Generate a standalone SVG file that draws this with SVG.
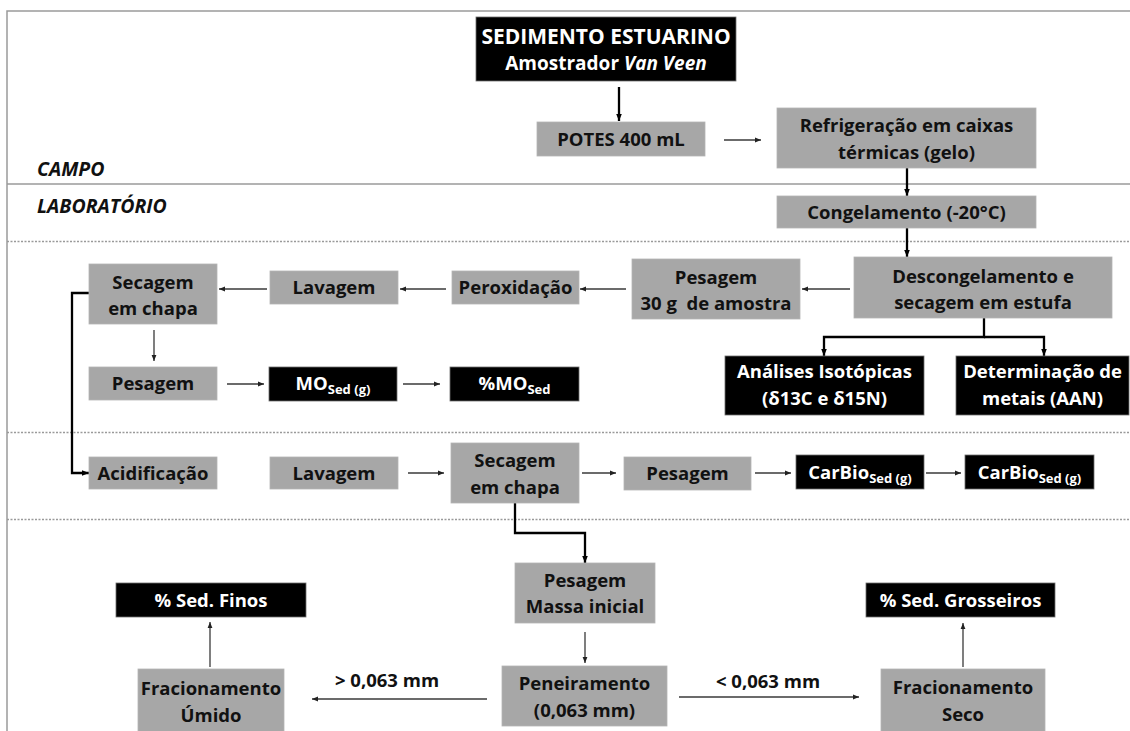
<svg xmlns="http://www.w3.org/2000/svg" width="1130" height="731" viewBox="0 0 1130 731">
  <style>
    text { font-family: "Open Sans", "Noto Sans", "Liberation Sans", sans-serif; font-weight: bold; text-anchor: middle; }
    .g rect { fill: #a7a7a7; stroke: #b4b4b4; stroke-width: 0.8; }
    .g text { fill: #111; font-size: 18.5px; }
    .k rect { fill: #000; stroke: #6e6e6e; stroke-width: 0.8; }
    .k text { fill: #fff; font-size: 18.5px; }
    .sub { font-size: 13px; }
    .zone { font-size: 19.5px; font-style: italic; text-anchor: start; fill: #111; }
    .frame { stroke: #9a9a9a; stroke-width: 1.5; fill: none; }
    .dash { stroke: #9a9a9a; stroke-width: 1.3; stroke-dasharray: 2 1.5; fill: none; }
    .thin { stroke: #3a3a3a; stroke-width: 1.3; fill: none; marker-end: url(#ah); }
    .thick { stroke: #000; stroke-width: 2.3; fill: none; }
    .thick.arr { marker-end: url(#ahb); }
    .lbl { font-size: 18.5px; fill: #111; }
  </style>
  <defs>
    <marker id="ah" viewBox="0 0 10 10" refX="10" refY="5" markerWidth="6" markerHeight="6" markerUnits="userSpaceOnUse" orient="auto">
      <path d="M0,1 L10,5 L0,9 z" fill="#222"/>
    </marker>
    <marker id="ahb" viewBox="0 0 10 10" refX="10" refY="5" markerWidth="7" markerHeight="7" markerUnits="userSpaceOnUse" orient="auto">
      <path d="M0,1 L10,5 L0,9 z" fill="#000"/>
    </marker>
  </defs>

  <rect width="1130" height="731" fill="#fff"/>

  <!-- frame and zone separators -->
  <path class="frame" d="M7,731 V11 H1130"/>
  <path class="frame" d="M7,184 H1130" stroke="#8a8a8a"/>
  <path class="dash" d="M7,241.5 H1130"/>
  <path class="dash" d="M7,432.5 H1130"/>
  <path class="dash" d="M7,519.5 H1130"/>
  <text class="zone" x="37" y="176">CAMPO</text>
  <text class="zone" x="37" y="213">LABORATÓRIO</text>

  <!-- connectors -->
  <g id="connectors">
    <path class="thick arr" d="M619,87 V121"/>
    <path class="thin" d="M724,140 H761"/>
    <path class="thick arr" d="M907,168 V196"/>
    <path class="thick arr" d="M907,228 V257"/>
    <path class="thin" d="M850,289 H802"/>
    <path class="thin" d="M626,289 H580"/>
    <path class="thin" d="M446,289 H400"/>
    <path class="thin" d="M267,289 H219"/>
    <path class="thin" d="M154,330 V361"/>
    <path class="thin" d="M227,384 H264"/>
    <path class="thin" d="M403,384 H440"/>
    <path class="thick arr" d="M984,318 V337 H824 V356"/>
    <path class="thick arr" d="M984,337 H1044 V356"/>
    <path class="thick arr" d="M89,293 H72 V473 H89"/>
    <path class="thin" d="M408,473 H444"/>
    <path class="thin" d="M582,473 H616"/>
    <path class="thin" d="M755,473 H791"/>
    <path class="thin" d="M926,473 H961"/>
    <path class="thick arr" d="M515,503 V533 H585 V563"/>
    <path class="thin" d="M585,632 V663"/>
    <path class="thin" d="M487,699 H312"/>
    <path class="thin" d="M679,697 H859"/>
    <path class="thin" d="M210,667 V622"/>
    <path class="thin" d="M963,667 V623"/>
  </g>

  <!-- field -->
  <g id="sedimento" class="k">
    <rect x="476" y="17" width="260" height="64"/>
    <text x="606" y="44" style="font-size:21px">SEDIMENTO ESTUARINO</text>
    <text x="606" y="70" style="font-size:19px">Amostrador <tspan font-style="italic">Van Veen</tspan></text>
  </g>
  <g id="potes" class="g">
    <rect x="537" y="122" width="168" height="34"/>
    <text x="621" y="145.5">POTES 400 mL</text>
  </g>
  <g id="refrigeracao" class="g">
    <rect x="777" y="108" width="259" height="60"/>
    <text x="906.5" y="132">Refrigeração em caixas</text>
    <text x="906.5" y="159">térmicas (gelo)</text>
  </g>

  <!-- laboratory -->
  <g id="congelamento" class="g">
    <rect x="777" y="196" width="259" height="32"/>
    <text x="906.5" y="219">Congelamento (-20°C)</text>
  </g>
  <g id="descongelamento" class="g">
    <rect x="854" y="257" width="258" height="61"/>
    <text x="983" y="283">Descongelamento e</text>
    <text x="983" y="309">secagem em estufa</text>
  </g>
  <g id="pesagem-30g" class="g">
    <rect x="632" y="259" width="168" height="60"/>
    <text x="716" y="284">Pesagem</text>
    <text x="716" y="310" xml:space="preserve">30 g  de amostra</text>
  </g>
  <g id="peroxidacao" class="g">
    <rect x="452" y="271" width="127" height="33"/>
    <text x="515.5" y="294">Peroxidação</text>
  </g>
  <g id="lavagem-1" class="g">
    <rect x="270" y="271" width="128" height="33"/>
    <text x="334" y="294">Lavagem</text>
  </g>
  <g id="secagem-1" class="g">
    <rect x="89" y="264" width="128" height="60"/>
    <text x="153" y="289">Secagem</text>
    <text x="153" y="315">em chapa</text>
  </g>
  <g id="pesagem-1" class="g">
    <rect x="89" y="367" width="128" height="33"/>
    <text x="153" y="390">Pesagem</text>
  </g>
  <g id="mo-sed" class="k">
    <rect x="269" y="367" width="128" height="34"/>
    <text x="333" y="390">MO<tspan class="sub" dy="4">Sed (g)</tspan></text>
  </g>
  <g id="pct-mo-sed" class="k">
    <rect x="450" y="367" width="129" height="34"/>
    <text x="514.5" y="390">%MO<tspan class="sub" dy="4">Sed</tspan></text>
  </g>
  <g id="analises-isotopicas" class="k">
    <rect x="725" y="356" width="199" height="59"/>
    <text x="824.5" y="378">Análises Isotópicas</text>
    <text x="824.5" y="405">(δ13C e δ15N)</text>
  </g>
  <g id="determinacao-metais" class="k">
    <rect x="956" y="356" width="173" height="59"/>
    <text x="1042.5" y="378">Determinação de</text>
    <text x="1042.5" y="405">metais (AAN)</text>
  </g>

  <g id="acidificacao" class="g">
    <rect x="89" y="457" width="128" height="32"/>
    <text x="153" y="480">Acidificação</text>
  </g>
  <g id="lavagem-2" class="g">
    <rect x="270" y="457" width="128" height="32"/>
    <text x="334" y="480">Lavagem</text>
  </g>
  <g id="secagem-2" class="g">
    <rect x="451" y="443" width="128" height="60"/>
    <text x="515" y="467">Secagem</text>
    <text x="515" y="493.5">em chapa</text>
  </g>
  <g id="pesagem-2" class="g">
    <rect x="624" y="457" width="127" height="33"/>
    <text x="687.5" y="480">Pesagem</text>
  </g>
  <g id="carbio-1" class="k">
    <rect x="796" y="455" width="128" height="34"/>
    <text x="860" y="479">CarBio<tspan class="sub" dy="4">Sed (g)</tspan></text>
  </g>
  <g id="carbio-2" class="k">
    <rect x="965" y="455" width="129" height="34"/>
    <text x="1029.5" y="479">CarBio<tspan class="sub" dy="4">Sed (g)</tspan></text>
  </g>

  <g id="pesagem-massa" class="g">
    <rect x="515" y="563" width="140" height="60"/>
    <text x="585" y="587">Pesagem</text>
    <text x="585" y="613">Massa inicial</text>
  </g>
  <g id="peneiramento" class="g">
    <rect x="502" y="666" width="165" height="60"/>
    <text x="584.5" y="690">Peneiramento</text>
    <text x="584.5" y="717">(0,063 mm)</text>
  </g>
  <g id="fracionamento-umido" class="g">
    <rect x="138" y="669" width="146" height="64"/>
    <text x="211" y="695">Fracionamento</text>
    <text x="211" y="722">Úmido</text>
  </g>
  <g id="fracionamento-seco" class="g">
    <rect x="881" y="669" width="164" height="64"/>
    <text x="963" y="694">Fracionamento</text>
    <text x="963" y="721">Seco</text>
  </g>
  <g id="sed-finos" class="k">
    <rect x="116" y="583" width="190" height="34"/>
    <text x="211" y="607">% Sed. Finos</text>
  </g>
  <g id="sed-grosseiros" class="k">
    <rect x="866" y="583" width="189" height="34"/>
    <text x="960.5" y="607">% Sed. Grosseiros</text>
  </g>

  <text class="lbl" x="387" y="687">&gt; 0,063 mm</text>
  <text class="lbl" x="768" y="688">&lt; 0,063 mm</text>
</svg>
